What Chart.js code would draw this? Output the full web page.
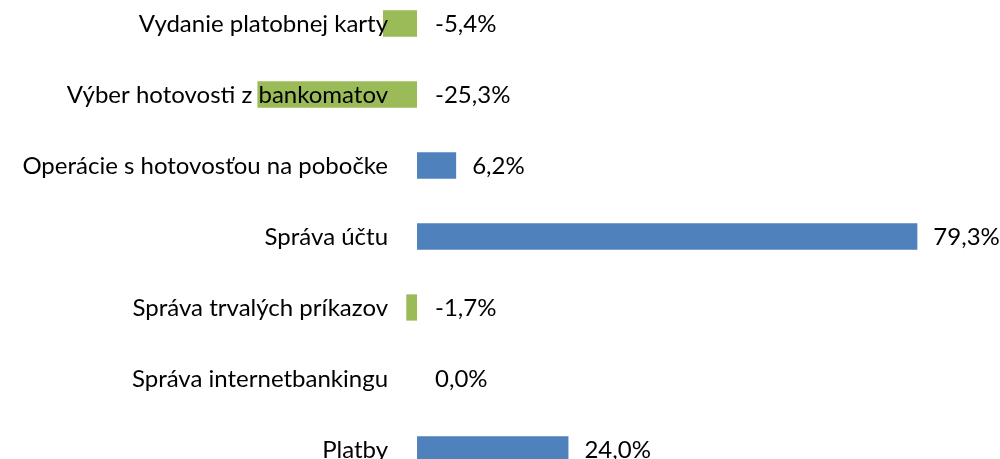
<!DOCTYPE html>
<html>
<head>
<meta charset="utf-8">
<script src="https://cdn.jsdelivr.net/npm/chart.js@4"></script>
<style>
  html, body { margin: 0; padding: 0; background: #fff; overflow: hidden; }
  #wrap { position: absolute; left: 0; top: -12px; width: 1000px; height: 497px; }
</style>
</head>
<body>
<div id="wrap"><canvas id="myChart" width="1000" height="497"></canvas></div>
<script>
var categories = [
  "Vydanie platobnej karty",
  "Výber hotovosti z bankomatov",
  "Operácie s hotovosťou na pobočke",
  "Správa účtu",
  "Správa trvalých príkazov",
  "Správa internetbankingu",
  "Platby"
];
var values = [-5.4, -25.3, 6.2, 79.3, -1.7, 0.0, 24.0];

var blue = "#4F81BD";
var green = "#9BBB59";
var labelFont = "24px Lato";

function fmt(v) {
  return v.toFixed(1).replace(".", ",") + "%";
}

// category names and value labels drawn next to the zero line, like the original
var labelPlugin = {
  id: "labels",
  afterDatasetsDraw: function (chart) {
    var ctx = chart.ctx;
    var xs = chart.scales.x;
    var ys = chart.scales.y;
    var zero = xs.getPixelForValue(0);
    ctx.save();
    ctx.font = labelFont;
    ctx.fillStyle = "#000";
    ctx.textBaseline = "middle";
    categories.forEach(function (name, i) {
      var y = ys.getPixelForValue(i) + 1;
      ctx.textAlign = "right";
      ctx.fillText(name, zero - 29, y);
      var v = values[i];
      var x = v > 0 ? xs.getPixelForValue(v) + 16 : zero + 18;
      ctx.textAlign = "left";
      ctx.fillText(fmt(v), x, y);
    });
    ctx.restore();
  }
};

var ctx = document.getElementById("myChart").getContext("2d");
var myChart = new Chart(ctx, {
  type: "bar",
  data: {
    labels: categories,
    datasets: [
      {
        data: values,
        backgroundColor: values.map(function (v) { return v < 0 ? green : blue; }),
        borderWidth: 0,
        barPercentage: 0.37,
        categoryPercentage: 1
      }
    ]
  },
  options: {
    indexAxis: "y",
    responsive: false,
    animation: false,
    layout: { padding: 0 },
    plugins: {
      legend: { display: false },
      tooltip: { enabled: false }
    },
    scales: {
      x: { display: false, min: -66.1, max: 92.4 },
      y: { display: false }
    }
  },
  plugins: [labelPlugin]
});
</script>
</body>
</html>
